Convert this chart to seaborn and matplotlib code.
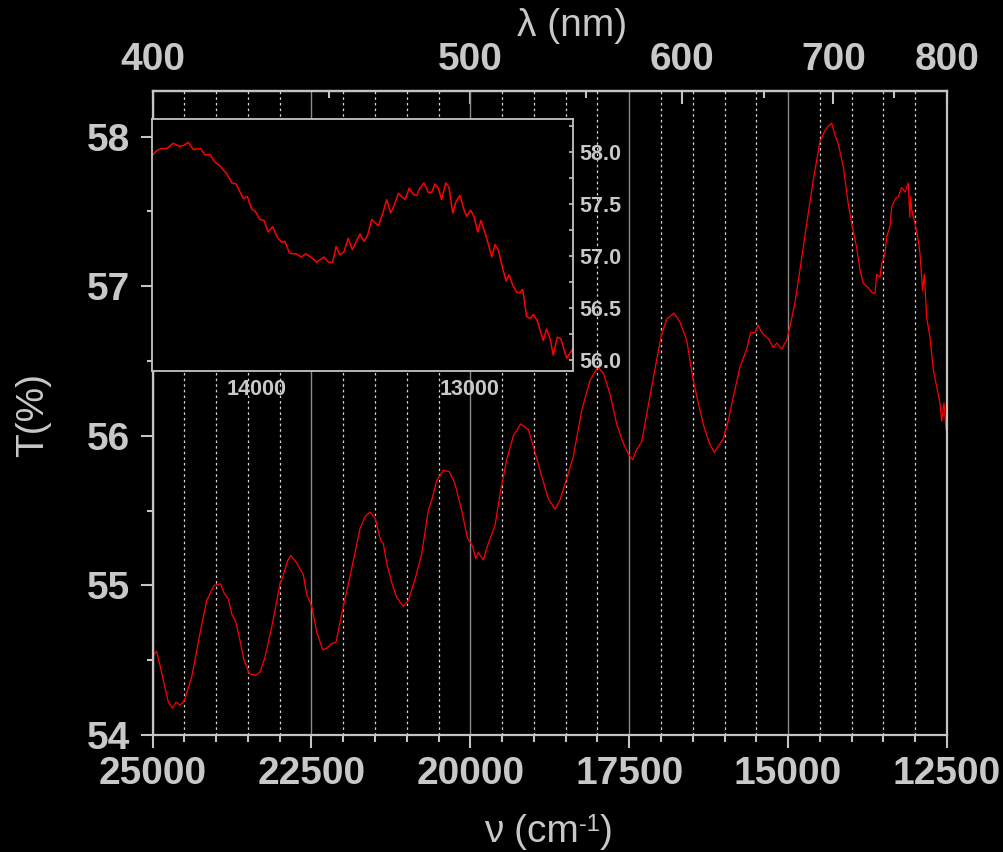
import numpy as np
import pandas as pd
import matplotlib
matplotlib.use("Agg")
import matplotlib.pyplot as plt
import seaborn as sns
from matplotlib.ticker import MultipleLocator, FixedLocator, FormatStrFormatter

# ---------------- data ----------------
main_wn = [25000, 24934, 24751, 24688, 24630, 24567, 24500, 24383, 24253, 24147,
           24032, 23927, 23875, 23807, 23754, 23686, 23623, 23560, 23477, 23372,
           23309, 23230, 23125, 22994, 22942, 22879, 22826, 22731, 22627, 22574,
           22495, 22417, 22322, 22259, 22181, 22113, 21998, 21893, 21735, 21657,
           21578, 21499, 21410, 21369, 21315, 21237, 21158, 21054, 20975, 20870,
           20765, 20661, 20607, 20529, 20425, 20330, 20241, 20135, 20047, 19962,
           19915, 19874, 19796, 19717, 19611, 19533, 19427, 19323, 19207, 19087,
           19009, 18903, 18773, 18667, 18589, 18537, 18494, 18380, 18247, 18117,
           17996, 17908, 17802, 17697, 17593, 17514, 17445, 17393, 17303, 17184,
           17067, 16989, 16910, 16795, 16701, 16595, 16492, 16397, 16323, 16229,
           16161, 16098, 16020, 15941, 15862, 15757, 15651, 15588, 15521, 15469,
           15415, 15312, 15233, 15180, 15101, 15022, 14970, 14892, 14813, 14707,
           14604, 14498, 14420, 14368, 14314, 14262, 14210, 14132, 14053, 14000,
           13921, 13869, 13817, 13738, 13685, 13633, 13606, 13554, 13527, 13475,
           13449, 13396, 13370, 13318, 13266, 13213, 13161, 13109, 13085, 13070,
           13055, 13004, 12952, 12925, 12883, 12857, 12819, 12767, 12715, 12662,
           12610, 12583, 12547, 12515, 12500]
main_T = [54.53, 54.56, 54.22, 54.18, 54.22, 54.20, 54.23, 54.39, 54.68, 54.90,
          55.00, 55.01, 54.95, 54.91, 54.81, 54.75, 54.63, 54.50, 54.41, 54.40,
          54.42, 54.52, 54.72, 55.01, 55.07, 55.16, 55.20, 55.15, 55.07, 54.94,
          54.86, 54.69, 54.57, 54.58, 54.61, 54.62, 54.86, 55.06, 55.38, 55.46,
          55.49, 55.45, 55.30, 55.28, 55.15, 55.02, 54.92, 54.86, 54.90, 55.04,
          55.21, 55.50, 55.57, 55.70, 55.77, 55.76, 55.68, 55.50, 55.32, 55.26,
          55.18, 55.22, 55.17, 55.28, 55.40, 55.61, 55.84, 56.00, 56.08, 56.04,
          55.93, 55.77, 55.58, 55.51, 55.57, 55.64, 55.70, 55.86, 56.17, 56.37,
          56.46, 56.42, 56.28, 56.08, 55.95, 55.88, 55.84, 55.90, 55.96, 56.24,
          56.51, 56.68, 56.78, 56.82, 56.76, 56.64, 56.37, 56.19, 56.06, 55.94,
          55.89, 55.93, 55.98, 56.10, 56.26, 56.46, 56.58, 56.69, 56.69, 56.74,
          56.69, 56.65, 56.59, 56.62, 56.58, 56.64, 56.73, 56.89, 57.11, 57.42,
          57.71, 57.97, 58.04, 58.07, 58.09, 58.01, 57.95, 57.80, 57.55, 57.42,
          57.26, 57.11, 57.02, 56.99, 56.96, 56.95, 57.08, 57.06, 57.15, 57.22,
          57.33, 57.40, 57.53, 57.58, 57.60, 57.66, 57.63, 57.69, 57.46, 57.60,
          57.51, 57.42, 57.31, 57.22, 56.97, 57.08, 56.79, 56.66, 56.44, 56.33,
          56.22, 56.10, 56.22, 56.04, 56.10]

inset_wn = [14490, 14468, 14445, 14421, 14390, 14362, 14340, 14320, 14296, 14262,
            14242, 14218, 14195, 14171, 14140, 14116, 14096, 14062, 14043, 14023,
            14007, 13984, 13965, 13945, 13924, 13903, 13882, 13867, 13846, 13828,
            13812, 13791, 13769, 13746, 13718, 13684, 13662, 13643, 13627, 13609,
            13590, 13570, 13551, 13515, 13496, 13479, 13460, 13429, 13408, 13390,
            13371, 13354, 13335, 13304, 13284, 13265, 13249, 13234, 13215, 13195,
            13179, 13163, 13148, 13132, 13113, 13098, 13080, 13065, 13046, 13027,
            13015, 12996, 12979, 12963, 12948, 12921, 12897, 12882, 12867, 12846,
            12830, 12816, 12799, 12780, 12765, 12752, 12734, 12718, 12702, 12684,
            12656, 12640, 12624, 12609, 12590, 12574, 12546, 12515]
inset_T = [57.96, 58.01, 58.03, 58.03, 58.08, 58.05, 58.06, 58.09, 58.02, 58.03,
           57.97, 57.97, 57.90, 57.86, 57.79, 57.70, 57.69, 57.55, 57.57, 57.45,
           57.43, 57.35, 57.34, 57.23, 57.28, 57.18, 57.13, 57.14, 57.03, 57.02,
           57.02, 56.99, 57.02, 56.99, 56.94, 56.99, 56.94, 56.94, 57.09, 57.01,
           57.04, 57.17, 57.06, 57.21, 57.14, 57.20, 57.35, 57.29, 57.41, 57.54,
           57.41, 57.49, 57.60, 57.54, 57.65, 57.59, 57.58, 57.65, 57.70, 57.61,
           57.61, 57.69, 57.65, 57.54, 57.70, 57.66, 57.41, 57.52, 57.58, 57.44,
           57.38, 57.44, 57.37, 57.23, 57.34, 57.17, 56.99, 57.11, 57.06, 56.88,
           56.76, 56.82, 56.72, 56.65, 56.65, 56.68, 56.42, 56.40, 56.44, 56.38,
           56.19, 56.30, 56.21, 56.05, 56.22, 56.21, 56.02, 56.12]

x_ticks = [25000, 22500, 20000, 17500, 15000, 12500]
y_ticks = [54, 55, 56, 57, 58]
top_ticks_nm = [400, 500, 600, 700, 800]
top_minor_nm = [450, 550, 650, 750]
inset_x_ticks = [14000, 13000]
inset_y_ticks = [56.0, 56.5, 57.0, 57.5, 58.0]

main_df = pd.DataFrame({"wn": main_wn, "T": main_T})
inset_df = pd.DataFrame({"wn": inset_wn, "T": inset_T})

# ---------------- style ----------------
sns.set_style("dark", {"axes.facecolor": "black", "figure.facecolor": "black"})
plt.rcParams["font.family"] = ["Liberation Sans", "DejaVu Sans"]
plt.rcParams["font.weight"] = "bold"

FG = "#c8c8c8"
SPINE = "#c4c4c4"

fig = plt.figure(figsize=(10.04, 8.52), dpi=100, facecolor="black")
ax = fig.add_axes([0.1519, 0.1373, 0.7913, 0.7559])
ax.set_facecolor("black")

sns.lineplot(data=main_df, x="wn", y="T", ax=ax, color="#ff0000", lw=0.9,
             estimator=None, sort=False)
ax.set_xlim(25000, 12500)
ax.set_ylim(54, 58.305)
ax.set_xlabel("")
ax.set_ylabel("")

ax.set_xticks(x_ticks)
ax.xaxis.set_minor_locator(MultipleLocator(500))
ax.set_yticks(y_ticks)
ax.yaxis.set_minor_locator(MultipleLocator(0.5))

ax.grid(False)
ax.xaxis.grid(True, which="major", color="#8a8a8a", lw=1.0, ls="-")
ax.xaxis.grid(True, which="minor", color="#d8d8d8", lw=0.9, ls=(0, (2, 2.5)))
ax.yaxis.grid(False)
ax.set_axisbelow(True)

ax.tick_params(axis="x", which="major", direction="out", length=9, width=1.5,
               color=SPINE, labelcolor=FG, labelsize=28, pad=6,
               bottom=True, top=False)
ax.tick_params(axis="x", which="minor", direction="out", length=5, width=1.5,
               color=SPINE, bottom=True, top=False)
ax.tick_params(axis="y", which="major", direction="out", length=9, width=1.5,
               color=SPINE, labelcolor=FG, labelsize=28, pad=7,
               left=True, right=False)
ax.tick_params(axis="y", which="minor", direction="out", length=4, width=1.5,
               color=SPINE, left=True, right=False)
for s in ax.spines.values():
    s.set_color(SPINE)
    s.set_linewidth(1.6)

# top wavelength axis
def wn2nm(x):
    x = np.asarray(x, dtype=float)
    with np.errstate(divide="ignore"):
        return 1e7 / x

secax = ax.secondary_xaxis("top", functions=(wn2nm, wn2nm))
secax.set_xticks(top_ticks_nm)
secax.xaxis.set_minor_locator(FixedLocator(top_minor_nm))
secax.tick_params(axis="x", which="major", direction="in", length=9, width=1.5,
                  color=SPINE, labelcolor=FG, labelsize=28, pad=9)
secax.tick_params(axis="x", which="minor", direction="in", length=5, width=1.5,
                  color=SPINE)
secax.spines["top"].set_color(SPINE)
secax.spines["top"].set_linewidth(1.6)

# axis labels
LBL = 28
fig.text(0.5697, 0.970, "λ (nm)", ha="center", va="center", color=FG,
         fontsize=LBL, fontweight="normal")
fig.text(0.033, 0.513, "T(%)", ha="center", va="center", rotation=90, color=FG,
         fontsize=LBL, fontweight="normal")

# bottom label built from pieces so the superscript keeps a plain hyphen
fig.canvas.draw()
renderer = fig.canvas.get_renderer()
parts = [("ν (cm", LBL, 0.0), ("-1", 17, 11.0), (")", LBL, 0.0)]
widths = []
tmp_texts = []
for s, fs, dy in parts:
    t = fig.text(0, 0, s, fontsize=fs, fontweight="normal", color=FG)
    widths.append(t.get_window_extent(renderer).width)
    tmp_texts.append(t)
total = sum(widths)
x0 = 548 - total / 2.0
base_y = 852 - 842  # baseline in pixels from bottom
xcur = x0
for (s, fs, dy), t, w in zip(parts, tmp_texts, widths):
    t.set_position((xcur / 1004.0, (base_y + dy) / 852.0))
    t.set_va("baseline")
    xcur += w

# ---------------- inset ----------------
axin = fig.add_axes([0.1514, 0.5649, 0.4196, 0.2951])
axin.set_facecolor("black")
sns.lineplot(data=inset_df, x="wn", y="T", ax=axin, color="#ff0000", lw=1.1,
             estimator=None, sort=False)
axin.set_xlim(14490, 12515)
axin.set_ylim(55.90, 58.31)
axin.set_xlabel("")
axin.set_ylabel("")
axin.grid(False)
axin.yaxis.tick_right()
axin.set_yticks(inset_y_ticks)
axin.yaxis.set_minor_locator(MultipleLocator(0.25))
axin.yaxis.set_major_formatter(FormatStrFormatter("%.1f"))
axin.set_xticks(inset_x_ticks)
axin.xaxis.set_minor_locator(MultipleLocator(500))
axin.tick_params(axis="y", which="both", direction="in", length=3, width=1.2,
                 color=SPINE, labelcolor=FG, labelsize=15.5, pad=4,
                 left=False, right=True)
axin.tick_params(axis="x", which="major", direction="out", length=3, width=1.2,
                 color=SPINE, labelcolor=FG, labelsize=15.5, pad=3)
axin.tick_params(axis="x", which="minor", direction="out", length=2, width=1.2,
                 color=SPINE)
for s in axin.spines.values():
    s.set_color(SPINE)
    s.set_linewidth(1.3)

fig.savefig("out.png", dpi=100, facecolor="black")
